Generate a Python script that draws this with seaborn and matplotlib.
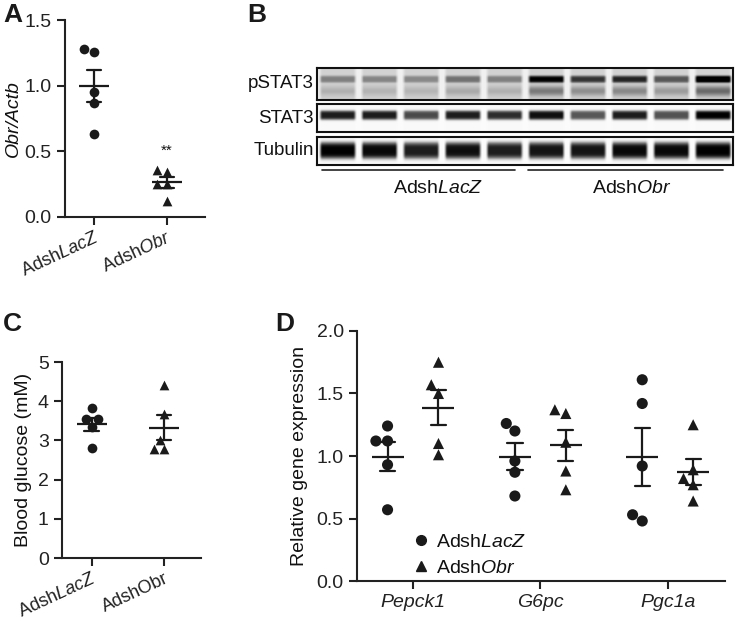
import numpy as np
import pandas as pd
import matplotlib
matplotlib.use("Agg")
import matplotlib.pyplot as plt
import seaborn as sns
from matplotlib.lines import Line2D

# ---- data ----
GROUPS = ["LacZ", "Obr"]
A_LACZ = [1.26, 1.28, 0.95, 0.87, 0.63]
A_OBR = [0.34, 0.36, 0.25, 0.25, 0.12]
C_LACZ = [3.82, 3.55, 3.55, 3.35, 2.80]
C_OBR = [4.42, 3.68, 3.00, 2.77, 2.77]

GENES = ["Pepck1", "G6pc", "Pgc1a"]
D_LACZ = [[1.24, 1.12, 1.12, 0.93, 0.57],
          [1.26, 1.20, 0.96, 0.87, 0.68],
          [1.61, 1.42, 0.92, 0.53, 0.48]]
D_OBR = [[1.75, 1.57, 1.50, 1.10, 1.01],
         [1.37, 1.34, 1.11, 0.88, 0.73],
         [1.25, 0.89, 0.82, 0.77, 0.64]]

# western blot band intensities per lane (5 LacZ + 5 Obr)
PSTAT3 = [0.30, 0.28, 0.27, 0.35, 0.30, 0.72, 0.55, 0.60, 0.45, 0.85]
STAT3 = [0.85, 0.85, 0.72, 0.85, 0.80, 0.90, 0.68, 0.85, 0.70, 0.95]
TUBULIN = [0.95, 0.92, 0.85, 0.90, 0.85, 0.88, 0.88, 0.92, 0.92, 0.95]
BLOT_ROWS = ["pSTAT3", "STAT3", "Tubulin"]

A_XTICKS = [r"Adsh$\mathit{LacZ}$", r"Adsh$\mathit{Obr}$"]
C_XTICKS = [r"Adsh$\mathit{LacZ}$", "AdshObr"]
LEGEND_LABELS = [r"Adsh$\mathit{LacZ}$", r"Adsh$\mathit{Obr}$"]

sns.set_theme(style="ticks")
plt.rcParams.update({
    "font.family": ["Liberation Sans", "DejaVu Sans"],
    "mathtext.fontset": "custom",
    "mathtext.rm": "Liberation Sans",
    "mathtext.it": "Liberation Sans:italic",
    "font.size": 14,
    "axes.linewidth": 1.5,
    "xtick.major.width": 1.5,
    "ytick.major.width": 1.5,
    "xtick.major.size": 6,
    "ytick.major.size": 6,
    "xtick.labelsize": 14,
    "ytick.labelsize": 14,
    "axes.labelsize": 14,
    "xtick.color": "#222222",
    "ytick.color": "#222222",
    "axes.edgecolor": "#222222",
    "text.color": "#111111",
    "axes.labelcolor": "#111111",
})

MARKERS = {"LacZ": "o", "Obr": "^"}


def group_frame(lacz, obr):
    return pd.DataFrame({"group": ["LacZ"] * len(lacz) + ["Obr"] * len(obr),
                         "value": lacz + obr})


def dot_panel(ax, lacz, obr, size):
    df = group_frame(lacz, obr)
    for g in GROUPS:
        sns.swarmplot(data=df[df.group == g], x="group", y="value", order=GROUPS,
                      marker=MARKERS[g], color="k", size=size, ax=ax)
    sns.pointplot(data=df, x="group", y="value", order=GROUPS, errorbar="se",
                  capsize=0.2, marker="_", markersize=22, markeredgewidth=1.6,
                  linestyle="none", color="k", err_kws={"linewidth": 1.6}, ax=ax)
    sns.despine(ax=ax)
    ax.set_xlabel("")


def rotated_labels(ax, labels):
    ax.set_xticks([0, 1])
    ax.set_xticklabels(labels, rotation=25, ha="right", va="top",
                       rotation_mode="anchor", fontsize=13)
    ax.tick_params(axis="x", pad=3)


def blot_image(intens, centre, width, base, gap, lower=0.0):
    W, H = 40, 30
    n = len(intens)
    x = np.arange(n * W)
    lane_pos = (x % W + 0.5) / W
    hprof = np.clip((0.46 - np.abs(lane_pos - 0.5)) / 0.08, 0, 1)
    y = (np.arange(H) + 0.5) / H
    vprof = np.exp(-((y - centre) / width) ** 4)
    band = np.array(intens)[x // W]
    img = gap + (base - gap) * hprof[None, :] + band[None, :] * hprof[None, :] * vprof[:, None]
    if lower:
        smear = np.exp(-((y - 0.72) / 0.16) ** 2)
        img = img + lower * band[None, :] * hprof[None, :] * smear[:, None]
    return np.clip(img, 0, 1)


fig = plt.figure(figsize=(7.35, 6.21), dpi=100)

# ---- A ----
axA = fig.add_axes([0.0884, 0.6506, 0.19, 0.317])
dot_panel(axA, A_LACZ, A_OBR, 7)
axA.set_ylim(0, 1.5)
axA.set_yticks([0, 0.5, 1.0, 1.5])
axA.set_yticklabels(["0.0", "0.5", "1.0", "1.5"])
axA.set_xlim(-0.4, 1.52)
rotated_labels(axA, A_XTICKS)
axA.set_ylabel("Obr/Actb", style="italic", labelpad=2)
axA.text(1, 0.45, "**", ha="center", va="bottom", fontsize=11)

# ---- B (western blot) ----
blots = [blot_image(PSTAT3, 0.35, 0.11, 0.28, 0.12, lower=0.45),
         blot_image(STAT3, 0.42, 0.17, 0.05, 0.03),
         blot_image(TUBULIN, 0.50, 0.30, 0.05, 0.03)]
rects = [[0.4313, 0.839, 0.566, 0.0515],
         [0.4313, 0.7874, 0.566, 0.0451],
         [0.4313, 0.7343, 0.566, 0.0451]]
for img, rect, name in zip(blots, rects, BLOT_ROWS):
    ax = fig.add_axes(rect)
    ax.imshow(img, cmap="Greys", vmin=0, vmax=1, aspect="auto", interpolation="bilinear")
    ax.set_xticks([])
    ax.set_yticks([])
    for sp in ax.spines.values():
        sp.set_linewidth(1.5)
        sp.set_color("#111111")
    ax.text(-0.008, 0.5, name, transform=ax.transAxes, ha="right", va="center", fontsize=13.5)

fig.add_artist(Line2D([0.438, 0.7007], [0.727, 0.727], color="#222222", lw=1.2))
fig.add_artist(Line2D([0.7184, 0.9837], [0.727, 0.727], color="#222222", lw=1.2))
fig.text(0.596, 0.697, r"Adsh$\mathit{LacZ}$", ha="center", va="center", fontsize=14)
fig.text(0.86, 0.697, r"Adsh$\mathit{Obr}$", ha="center", va="center", fontsize=14)

# ---- C ----
axC = fig.add_axes([0.0844, 0.1014, 0.189, 0.3156])
dot_panel(axC, C_LACZ, C_OBR, 7)
axC.set_ylim(0, 5)
axC.set_yticks(range(6))
axC.set_xlim(-0.41, 1.51)
rotated_labels(axC, C_XTICKS)
axC.set_ylabel("Blood glucose (mM)", labelpad=4)

# ---- D ----
rows = []
for gi, gene in enumerate(GENES):
    for v in D_LACZ[gi]:
        rows.append((gene, "LacZ", v))
    for v in D_OBR[gi]:
        rows.append((gene, "Obr", v))
dfD = pd.DataFrame(rows, columns=["gene", "group", "value"])

axD = fig.add_axes([0.4857, 0.0644, 0.5007, 0.4026])
for g in GROUPS:
    sns.swarmplot(data=dfD[dfD.group == g], x="gene", y="value", order=GENES,
                  hue="group", hue_order=GROUPS, palette={"LacZ": "k", "Obr": "k"},
                  dodge=True, marker=MARKERS[g], size=8, legend=False, ax=axD)
sns.pointplot(data=dfD, x="gene", y="value", order=GENES, hue="group", hue_order=GROUPS,
              palette={"LacZ": "k", "Obr": "k"}, dodge=0.4, errorbar="se", capsize=0.12,
              marker="_", markersize=23, markeredgewidth=1.6, linestyle="none",
              err_kws={"linewidth": 1.6}, legend=False, ax=axD)
sns.despine(ax=axD)
axD.set_ylim(0, 2.0)
axD.set_yticks([0, 0.5, 1.0, 1.5, 2.0])
axD.set_yticklabels(["0.0", "0.5", "1.0", "1.5", "2.0"])
axD.set_xlim(-0.44, 2.45)
axD.set_xticks(range(3))
axD.set_xticklabels(GENES, style="italic")
axD.set_xlabel("")
axD.set_ylabel("Relative gene expression", labelpad=6)
handles = [Line2D([], [], marker=MARKERS[g], ls="none", color="k", markersize=7) for g in GROUPS]
axD.legend(handles, LEGEND_LABELS, loc="lower left", bbox_to_anchor=(0.095, -0.055),
           frameon=False, handletextpad=0.15, labelspacing=0.45, fontsize=14,
           handlelength=1.2)

# panel letters
for x, y, s in [(0.004, 0.995, "A"), (0.336, 0.995, "B"), (0.004, 0.497, "C"), (0.374, 0.497, "D")]:
    fig.text(x, y, s, ha="left", va="top", fontsize=19, fontweight="bold", color="k")

fig.savefig("out.png", dpi=100)
